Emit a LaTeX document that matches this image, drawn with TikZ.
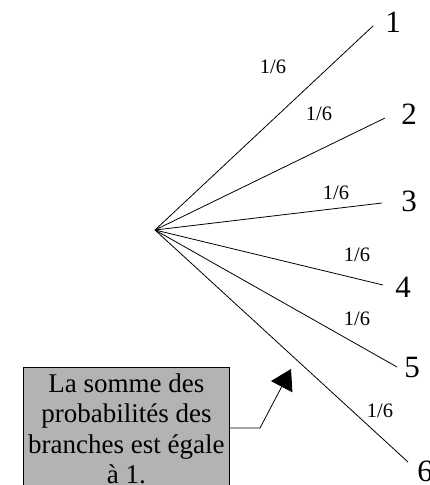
\documentclass[tikz,border=0pt]{standalone}
\usepackage{fontspec}
\setmainfont{Liberation Serif}
\usetikzlibrary{arrows.meta,calc}
\begin{document}
\begin{tikzpicture}[x=1pt,y=-1pt,
  branch/.style={draw=black,line width=0.8pt},
  outcome/.style={font=\fontsize{31}{33}\selectfont,inner sep=0pt},
  prob/.style={font=\fontsize{20.5}{22}\selectfont,inner sep=0pt},
  notebox/.style={draw=black,line width=0.8pt,fill={rgb,255:red,179;green,179;blue,179},
    align=center,inner xsep=4pt,inner ysep=4pt,anchor=north west,
    minimum width=206pt,font=\fontsize{27}{30.3}\selectfont},
  pointer/.style={draw=black,line width=0.8pt,-{Triangle[length=20pt,width=24pt]}}]
\useasboundingbox (0,0) rectangle (430,485);
\clip (0,0) rectangle (430,485);
\coordinate (root) at (155,230);
\coordinate (e1) at (373,26);
\coordinate (e2) at (385,118);
\coordinate (e3) at (382,203);
\coordinate (e4) at (383,285);
\coordinate (e5) at (397,367);
\coordinate (e6) at (408,462);
\draw[branch] (root) -- (e1);
\draw[branch] (root) -- (e2);
\draw[branch] (root) -- (e3);
\draw[branch] (root) -- (e4);
\draw[branch] (root) -- (e5);
\draw[branch] (root) -- (e6);
\node[outcome] (n1) at (393,22) {1};
\node[outcome] (n2) at (409,114) {2};
\node[outcome] (n3) at (409,201) {3};
\node[outcome] (n4) at (403,287) {4};
\node[outcome] (n5) at (412,367) {5};
\node[outcome] (n6) at (425,471) {6};
\node[prob] (p1) at (273,67) {1/6};
\node[prob] (p2) at (319,114) {1/6};
\node[prob] (p3) at (336,193) {1/6};
\node[prob] (p4) at (357,255) {1/6};
\node[prob] (p5) at (357,319) {1/6};
\node[prob] (p6) at (380,411) {1/6};
\node[notebox] (box) at (23,367) {\rule{0pt}{21pt}La somme des\\probabilités des\\branches est égale\\à 1.\strut};
\coordinate (bend) at (260,428);
\coordinate (tip) at (291,369);
\draw[pointer] ($(box.north east)+(0,61)$) -- (bend) -- (tip);
\end{tikzpicture}
\end{document}
